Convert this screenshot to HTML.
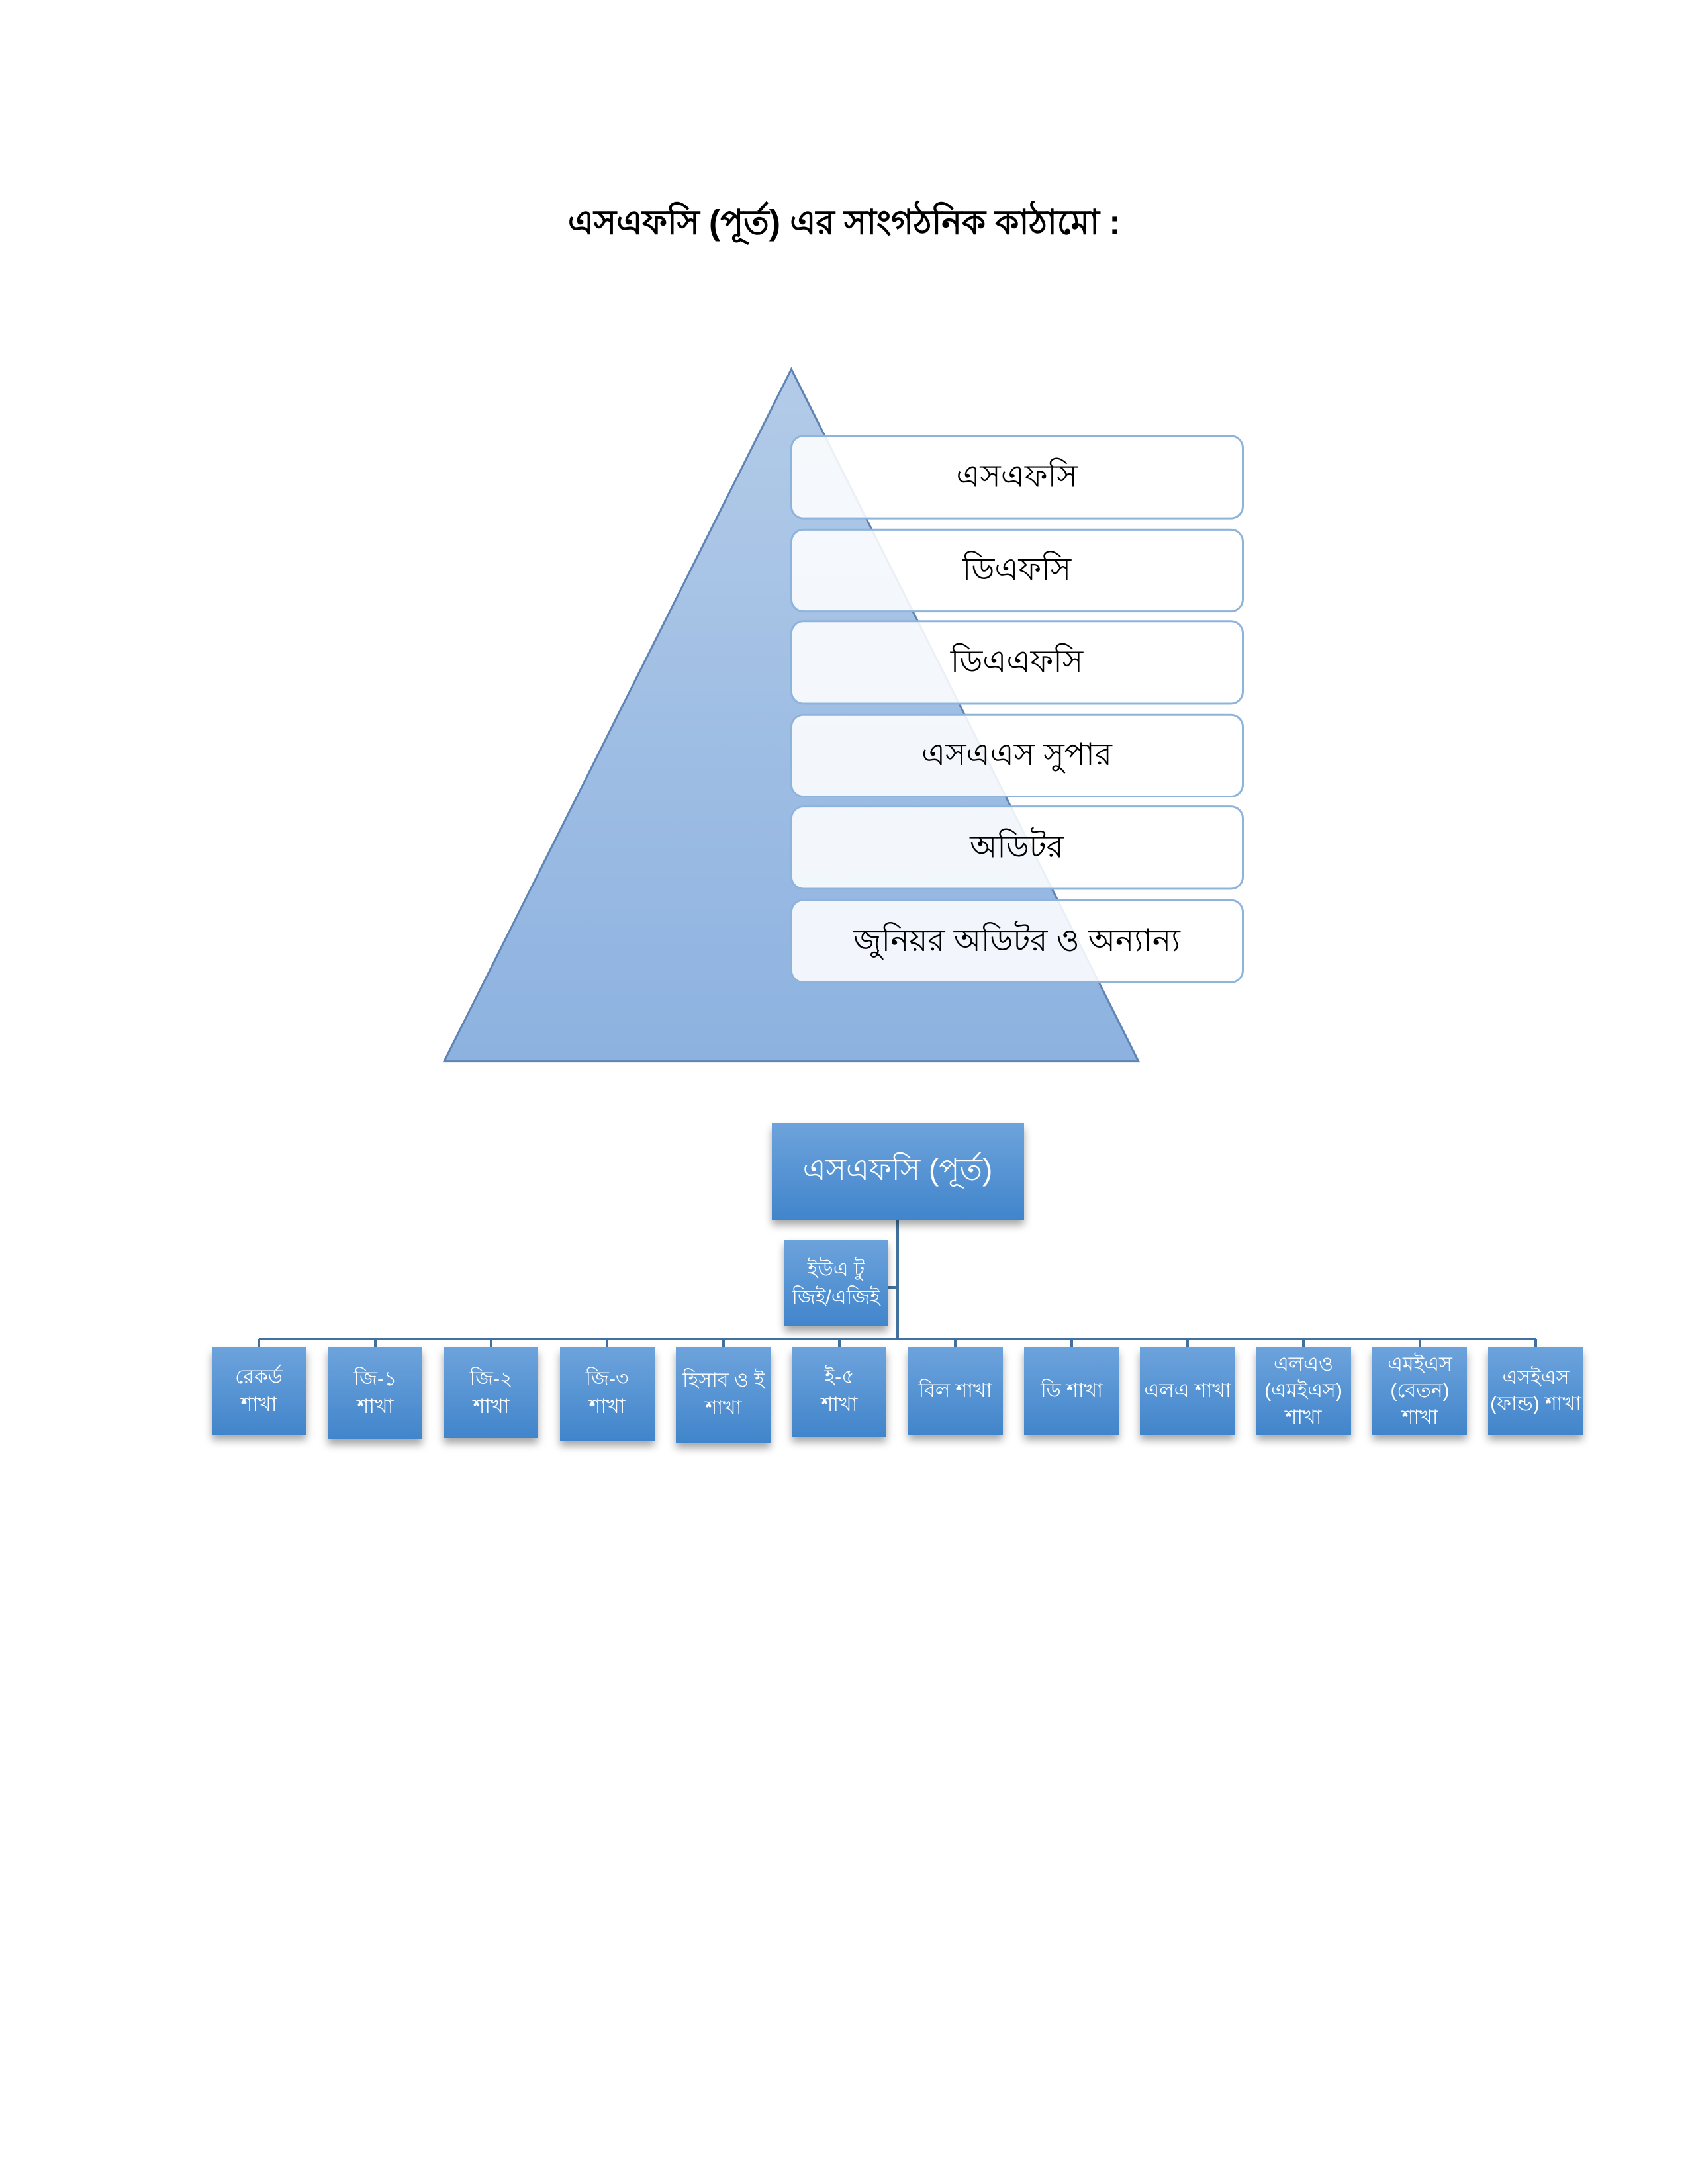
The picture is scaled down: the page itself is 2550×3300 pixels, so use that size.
<!DOCTYPE html>
<html><head><meta charset="utf-8"><style>
html,body{margin:0;padding:0;background:#fff;}
svg{display:block;}
text{font-family:"Liberation Sans","Noto Sans CJK SC",sans-serif;}
</style></head><body>
<svg width="2550" height="3300" viewBox="0 0 2550 3300" xmlns="http://www.w3.org/2000/svg">
<defs>
<linearGradient id="tri" x1="0" y1="0" x2="0" y2="1">
<stop offset="0" stop-color="#b3cbe8"/><stop offset="1" stop-color="#8db2e0"/></linearGradient>
<linearGradient id="bx" x1="0" y1="0" x2="0" y2="1">
<stop offset="0" stop-color="#6da3dc"/><stop offset="1" stop-color="#4185cb"/></linearGradient>
<filter id="sh" x="-20%" y="-20%" width="140%" height="150%"><feDropShadow dx="0" dy="8" stdDeviation="6" flood-color="#000" flood-opacity="0.35"/></filter>
</defs>
<g transform="scale(1.0105)">
<text x="1262" y="350" font-size="51" font-weight="bold" text-anchor="middle" fill="#000">এসএফসি (পূর্ত) এর সাংগঠনিক কাঠামো :</text>
<polygon points="1183,552 664,1587 1702,1587" fill="url(#tri)" stroke="#5f84b4" stroke-width="3"/>
<g fill="#ffffff" fill-opacity="0.88" stroke="#8fb4dc" stroke-width="3">
<rect x="1183" y="652" width="675" height="123" rx="18"/>
<rect x="1183" y="792" width="675" height="122" rx="18"/>
<rect x="1183" y="929" width="675" height="123" rx="18"/>
<rect x="1183" y="1069" width="675" height="122" rx="18"/>
<rect x="1183" y="1206" width="675" height="123" rx="18"/>
<rect x="1183" y="1346" width="675" height="123" rx="18"/>
</g>
<g font-size="47" text-anchor="middle" fill="#000">
<text x="1520" y="728">এসএফসি</text>
<text x="1520" y="867">ডিএফসি</text>
<text x="1520" y="1005">ডিএএফসি</text>
<text x="1520" y="1144">এসএএস সুপার</text>
<text x="1520" y="1282">অডিটর</text>
<text x="1520" y="1422">জুনিয়র অডিটর ও অন্যান্য</text>
</g>
</g>
<g stroke="#41719c" stroke-width="4" fill="none">
<line x1="1356" y1="1844" x2="1356" y2="2023"/>
<line x1="1356" y1="1945" x2="1341" y2="1945"/>
<line x1="391" y1="2023" x2="2320" y2="2023"/>
<line x1="391" y1="2023" x2="391" y2="2036"/>
<line x1="567" y1="2023" x2="567" y2="2036"/>
<line x1="742" y1="2023" x2="742" y2="2036"/>
<line x1="917" y1="2023" x2="917" y2="2036"/>
<line x1="1093" y1="2023" x2="1093" y2="2036"/>
<line x1="1268" y1="2023" x2="1268" y2="2036"/>
<line x1="1443" y1="2023" x2="1443" y2="2036"/>
<line x1="1619" y1="2023" x2="1619" y2="2036"/>
<line x1="1794" y1="2023" x2="1794" y2="2036"/>
<line x1="1969" y1="2023" x2="1969" y2="2036"/>
<line x1="2145" y1="2023" x2="2145" y2="2036"/>
<line x1="2320" y1="2023" x2="2320" y2="2036"/>
</g>
<g fill="url(#bx)" filter="url(#sh)">
<rect x="1166" y="1697" width="381" height="146"/>
<rect x="1185" y="1873" width="156" height="131"/>
<rect x="320" y="2036" width="143" height="132"/>
<rect x="495" y="2036" width="143" height="139"/>
<rect x="670" y="2036" width="143" height="137"/>
<rect x="846" y="2036" width="143" height="141"/>
<rect x="1021" y="2036" width="143" height="144"/>
<rect x="1196" y="2036" width="143" height="135"/>
<rect x="1372" y="2036" width="143" height="132"/>
<rect x="1547" y="2036" width="143" height="132"/>
<rect x="1722" y="2036" width="143" height="132"/>
<rect x="1898" y="2036" width="143" height="132"/>
<rect x="2073" y="2036" width="143" height="132"/>
<rect x="2248" y="2036" width="143" height="132"/>
</g>
<g fill="#fff" text-anchor="middle" font-size="30">
<text x="1356" y="1783" font-size="46">এসএফসি (পূর্ত)</text>
<text x="1263" y="1928">ইউএ টু</text>
<text x="1263" y="1970">জিই/এজিই</text>
<text x="391" y="2090">রেকর্ড</text><text x="391" y="2132">শাখা</text>
<text x="567" y="2093">জি-১</text><text x="567" y="2135">শাখা</text>
<text x="742" y="2093">জি-২</text><text x="742" y="2135">শাখা</text>
<text x="917" y="2093">জি-৩</text><text x="917" y="2135">শাখা</text>
<text x="1093" y="2095">হিসাব ও ই</text><text x="1093" y="2137">শাখা</text>
<text x="1268" y="2090">ই-৫</text><text x="1268" y="2132">শাখা</text>
<text x="1443" y="2111">বিল শাখা</text>
<text x="1619" y="2111">ডি শাখা</text>
<text x="1794" y="2111">এলএ শাখা</text>
<text x="1969" y="2071">এলএও</text><text x="1969" y="2111">(এমইএস)</text><text x="1969" y="2151">শাখা</text>
<text x="2145" y="2071">এমইএস</text><text x="2145" y="2111">(বেতন)</text><text x="2145" y="2151">শাখা</text>
<text x="2320" y="2091">এসইএস</text><text x="2320" y="2131">(ফান্ড) শাখা</text>
</g>
</svg>
</body></html>
